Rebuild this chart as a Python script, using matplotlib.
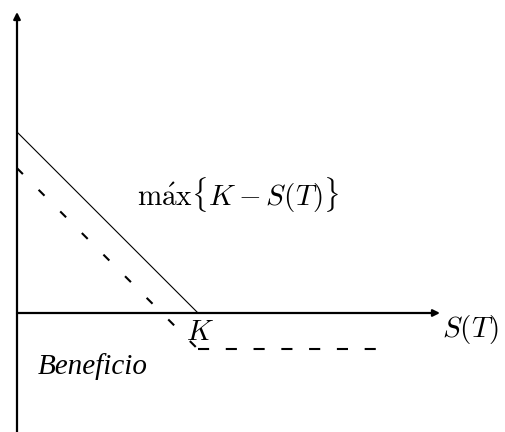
import matplotlib
matplotlib.use("Agg")
import matplotlib.pyplot as plt
import numpy as np

plt.rcParams['mathtext.fontset'] = 'cm'
plt.rcParams['lines.scale_dashes'] = False

# data
K = 10.0
premium = 2.0
S_solid = [0.0, K]
payoff_solid = [K - s for s in S_solid]
S_diag = [0.0, K]
profit_diag = [max(K - s, 0) - premium for s in S_diag]
S_flat = [K, 20.0]
profit_flat = [max(K - s, 0) - premium for s in S_flat]

fig = plt.figure(figsize=(5.05, 4.32), dpi=100)
ax = fig.add_axes([0, 0, 1, 1])
sc = 18.1
ax.set_xlim(-17 / sc, (505 - 17) / sc)
ax.set_ylim(-(432 - 313) / sc, 313 / sc)
ax.axis('off')

# axes arrows
ax.annotate('', xy=(0, (313 - 12) / sc), xytext=(0, -(432 - 313) / sc - 0.5),
            arrowprops=dict(arrowstyle='-|>', lw=1.6, color='black', mutation_scale=10,
                            shrinkA=0, shrinkB=0))
ax.annotate('', xy=((440 - 17) / sc, 0), xytext=(0, 0),
            arrowprops=dict(arrowstyle='-|>', lw=1.6, color='black', mutation_scale=10,
                            shrinkA=0, shrinkB=0))

ax.plot(S_solid, payoff_solid, color='black', lw=0.8, solid_capstyle='butt')
ax.plot(S_diag, profit_diag, color='black', lw=1.5, linestyle=(0, (6, 16)))
ax.plot(S_flat, profit_flat, color='black', lw=1.5, linestyle=(0, (8, 12)))

ax.text((137 - 17) / sc, (313 - 195) / sc, r'$\mathrm{m\acute{a}x}\{K - S(T)\}$',
        fontsize=21, ha='left', va='center')
ax.text((200 - 17) / sc, (313 - 332) / sc, r'$K$', fontsize=21, ha='center', va='center')
ax.text((470 - 17) / sc, (313 - 330) / sc, r'$S(T)$', fontsize=21, ha='center', va='center')
ax.text((38 - 17) / sc, (313 - 367) / sc, 'Beneficio', fontsize=21, ha='left', va='center',
        family='Liberation Serif', style='italic')

fig.savefig('out.png', dpi=100)
